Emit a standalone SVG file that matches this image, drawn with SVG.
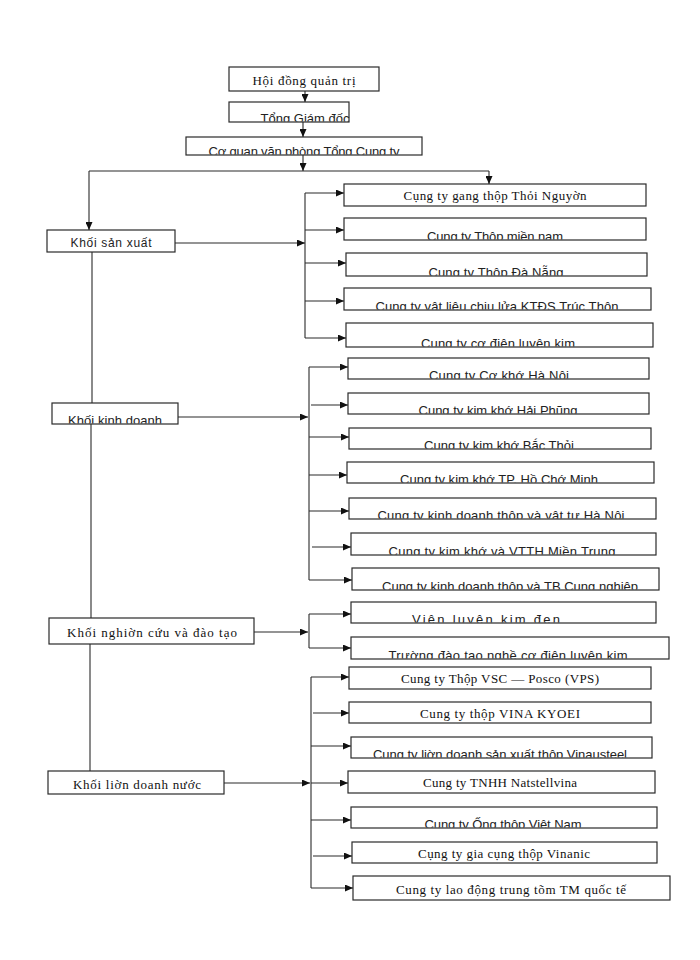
<svg xmlns="http://www.w3.org/2000/svg" width="700" height="960" viewBox="0 0 700 960">
<style>
.box{fill:#fff;stroke:#2a2a2a;stroke-width:1.2}
.sf{font-family:"Liberation Serif","Times New Roman",serif;font-size:13px;fill:#111;text-anchor:middle}
.ss{font-family:"Liberation Sans",Arial,sans-serif;font-size:12px;fill:#222;text-anchor:middle}
.cl{font-size:13px}
.c{stroke:#2a2a2a;stroke-width:1.1;fill:none}
.a{marker-end:url(#ah)}
</style>
<defs>
<marker id="ah" markerUnits="userSpaceOnUse" markerWidth="8" markerHeight="7" refX="8" refY="3.5" orient="auto">
<path d="M0,0 L8,3.5 L0,7 z" fill="#111"/>
</marker>
<clipPath id="cp-top2" clipPathUnits="userSpaceOnUse"><rect x="229" y="102" width="124" height="19.5"/></clipPath>
<clipPath id="cp-top3" clipPathUnits="userSpaceOnUse"><rect x="186" y="137" width="236" height="17.5"/></clipPath>
<clipPath id="cp-kkd" clipPathUnits="userSpaceOnUse"><rect x="52" y="403" width="126" height="20.5"/></clipPath>
<clipPath id="cp-b2" clipPathUnits="userSpaceOnUse"><rect x="344" y="218" width="302" height="21.5"/></clipPath>
<clipPath id="cp-b3" clipPathUnits="userSpaceOnUse"><rect x="346" y="253" width="301" height="22.5"/></clipPath>
<clipPath id="cp-b4" clipPathUnits="userSpaceOnUse"><rect x="344" y="288" width="307" height="21.5"/></clipPath>
<clipPath id="cp-b5" clipPathUnits="userSpaceOnUse"><rect x="346" y="323" width="307" height="23.5"/></clipPath>
<clipPath id="cp-k1" clipPathUnits="userSpaceOnUse"><rect x="348" y="358" width="301" height="20.5"/></clipPath>
<clipPath id="cp-k2" clipPathUnits="userSpaceOnUse"><rect x="348" y="393" width="301" height="20.5"/></clipPath>
<clipPath id="cp-k3" clipPathUnits="userSpaceOnUse"><rect x="349" y="428" width="302" height="20.5"/></clipPath>
<clipPath id="cp-k4" clipPathUnits="userSpaceOnUse"><rect x="347" y="462" width="307" height="20.5"/></clipPath>
<clipPath id="cp-k5" clipPathUnits="userSpaceOnUse"><rect x="349" y="498" width="307" height="20.5"/></clipPath>
<clipPath id="cp-k6" clipPathUnits="userSpaceOnUse"><rect x="351" y="533" width="305" height="21.5"/></clipPath>
<clipPath id="cp-k7" clipPathUnits="userSpaceOnUse"><rect x="352" y="568" width="307" height="21.5"/></clipPath>
<clipPath id="cp-n1" clipPathUnits="userSpaceOnUse"><rect x="351" y="602" width="305" height="20.5"/></clipPath>
<clipPath id="cp-n2" clipPathUnits="userSpaceOnUse"><rect x="351" y="637" width="318" height="21.5"/></clipPath>
<clipPath id="cp-l3" clipPathUnits="userSpaceOnUse"><rect x="351" y="737" width="301" height="20.5"/></clipPath>
<clipPath id="cp-l5" clipPathUnits="userSpaceOnUse"><rect x="351" y="807" width="306" height="20.5"/></clipPath>
</defs>

<g id="connectors">
<line class="c a" x1="305" y1="91" x2="305" y2="102"/>
<line class="c a" x1="303" y1="122" x2="303" y2="137"/>
<line class="c a" x1="303" y1="155" x2="303" y2="171"/>
<line class="c" x1="89" y1="171" x2="489" y2="171"/>
<line class="c a" x1="89" y1="171" x2="89" y2="230"/>
<line class="c a" x1="489" y1="171" x2="489" y2="184"/>
<line class="c a" x1="175" y1="243" x2="305" y2="243"/>
<line class="c" x1="305" y1="193" x2="305" y2="338"/>
<line class="c a" x1="305" y1="193" x2="344" y2="193"/>
<line class="c a" x1="305" y1="230" x2="344" y2="230"/>
<line class="c a" x1="305" y1="263" x2="346" y2="263"/>
<line class="c a" x1="305" y1="301" x2="344" y2="301"/>
<line class="c a" x1="305" y1="338" x2="346" y2="338"/>
<line class="c" x1="92" y1="252" x2="92" y2="403"/>
<line class="c" x1="91" y1="424" x2="91" y2="618"/>
<line class="c" x1="90" y1="644" x2="90" y2="771"/>
<line class="c a" x1="178" y1="417" x2="308" y2="417"/>
<line class="c" x1="309" y1="367" x2="309" y2="580"/>
<line class="c a" x1="309" y1="367" x2="348" y2="367"/>
<line class="c a" x1="311" y1="405" x2="348" y2="405"/>
<line class="c a" x1="309" y1="437" x2="349" y2="437"/>
<line class="c a" x1="309" y1="475" x2="347" y2="475"/>
<line class="c a" x1="309" y1="511" x2="349" y2="511"/>
<line class="c a" x1="312" y1="547" x2="351" y2="547"/>
<line class="c a" x1="309" y1="580" x2="352" y2="580"/>
<line class="c a" x1="254" y1="632" x2="308" y2="632"/>
<line class="c" x1="309" y1="614" x2="309" y2="648"/>
<line class="c a" x1="309" y1="614" x2="351" y2="614"/>
<line class="c a" x1="309" y1="648" x2="351" y2="648"/>
<line class="c a" x1="224" y1="783" x2="310" y2="783"/>
<line class="c" x1="311" y1="677" x2="311" y2="888"/>
<line class="c a" x1="311" y1="677" x2="349" y2="677"/>
<line class="c a" x1="313" y1="713" x2="349" y2="713"/>
<line class="c a" x1="311" y1="746" x2="351" y2="746"/>
<line class="c a" x1="311" y1="783" x2="348" y2="783"/>
<line class="c a" x1="311" y1="820" x2="351" y2="820"/>
<line class="c a" x1="313" y1="856" x2="352" y2="856"/>
<line class="c a" x1="311" y1="888" x2="353" y2="888"/>
</g>

<g id="top1"><rect class="box" x="229" y="67" width="150" height="24"/><text class="sf" x="304" y="85" textLength="103">Hội đồng quản trị</text></g>
<g id="top2"><rect class="box" x="229" y="102" width="120" height="20"/><text class="ss cl" x="305" y="123" textLength="89" clip-path="url(#cp-top2)">Tổng Giám đốc</text></g>
<g id="top3"><rect class="box" x="186" y="137" width="236" height="18"/><text class="ss cl" x="304" y="156" textLength="191" clip-path="url(#cp-top3)">Cơ quan văn phòng Tổng Cung ty</text></g>

<g id="ksx"><rect class="box" x="47" y="230" width="128" height="22"/><text class="ss" x="111" y="247" textLength="81">Khối sản xuất</text></g>
<g id="kkd"><rect class="box" x="52" y="403" width="126" height="21"/><text class="ss cl" x="115" y="425" textLength="94" clip-path="url(#cp-kkd)">Khối kinh doanh</text></g>
<g id="knc"><rect class="box" x="49" y="618" width="205" height="26"/><text class="sf" x="152" y="637" textLength="170">Khối nghiờn cứu và đào tạo</text></g>
<g id="kld"><rect class="box" x="48" y="771" width="176" height="23"/><text class="sf" x="137" y="788.5" textLength="128">Khối liờn doanh nước</text></g>

<g id="b1"><rect class="box" x="344" y="184" width="302" height="22"/><text class="sf" x="495" y="200" textLength="183">Cụng ty gang thộp Thỏi Nguyờn</text></g>
<g id="b2"><rect class="box" x="344" y="218" width="302" height="22"/><text class="ss cl" x="495" y="241" textLength="136" clip-path="url(#cp-b2)">Cụng ty Thộp miền nam</text></g>
<g id="b3"><rect class="box" x="346" y="253" width="301" height="23"/><text class="ss cl" x="496" y="277" textLength="135" clip-path="url(#cp-b3)">Cụng ty Thộp Đà Nẵng</text></g>
<g id="b4"><rect class="box" x="344" y="288" width="307" height="22"/><text class="ss cl" x="497" y="311" textLength="243" clip-path="url(#cp-b4)">Cụng ty vật liệu chịu lửa KTĐS Trúc Thôn</text></g>
<g id="b5"><rect class="box" x="346" y="323" width="307" height="24"/><text class="ss cl" x="498" y="348" textLength="154" clip-path="url(#cp-b5)">Cụng ty cơ điện luyện kim</text></g>

<g id="k1"><rect class="box" x="348" y="358" width="301" height="21"/><text class="ss cl" x="499" y="380" textLength="140" clip-path="url(#cp-k1)">Cụng ty Cơ khớ Hà Nội</text></g>
<g id="k2"><rect class="box" x="348" y="393" width="301" height="21"/><text class="ss cl" x="498" y="415" textLength="159" clip-path="url(#cp-k2)">Cụng ty kim khớ Hải Phũng</text></g>
<g id="k3"><rect class="box" x="349" y="428" width="302" height="21"/><text class="ss cl" x="499" y="450" textLength="150" clip-path="url(#cp-k3)">Cụng ty kim khớ Bắc Thỏi</text></g>
<g id="k4"><rect class="box" x="347" y="462" width="307" height="21"/><text class="ss cl" x="499" y="484" textLength="198" clip-path="url(#cp-k4)">Cụng ty kim khớ TP. Hồ Chớ Minh</text></g>
<g id="k5"><rect class="box" x="349" y="498" width="307" height="21"/><text class="ss cl" x="501" y="520" textLength="247" clip-path="url(#cp-k5)">Cụng ty kinh doanh thộp và vật tư Hà Nội</text></g>
<g id="k6"><rect class="box" x="351" y="533" width="305" height="22"/><text class="ss cl" x="502" y="556" textLength="227" clip-path="url(#cp-k6)">Cụng ty kim khớ và VTTH Miền Trung</text></g>
<g id="k7"><rect class="box" x="352" y="568" width="307" height="22"/><text class="ss cl" x="510" y="591" textLength="256" clip-path="url(#cp-k7)">Cụng ty kinh doanh thộp và TB Cụng nghiệp</text></g>

<g id="n1"><rect class="box" x="351" y="602" width="305" height="21"/><text class="ss cl" x="486" y="624" textLength="148" clip-path="url(#cp-n1)">Viện luyện kim đen</text></g>
<g id="n2"><rect class="box" x="351" y="637" width="318" height="22"/><text class="ss cl" x="508" y="660" textLength="239" clip-path="url(#cp-n2)">Trường đào tạo nghề cơ điện luyện kim</text></g>

<g id="l1"><rect class="box" x="349" y="667" width="302" height="22"/><text class="sf" x="500" y="683" textLength="198">Cung ty Thộp VSC — Posco (VPS)</text></g>
<g id="l2"><rect class="box" x="349" y="702" width="302" height="21"/><text class="sf" x="500" y="717.5" textLength="160">Cung ty thộp VINA KYOEI</text></g>
<g id="l3"><rect class="box" x="351" y="737" width="301" height="21"/><text class="ss cl" x="500" y="759" textLength="254" clip-path="url(#cp-l3)">Cụng ty liờn doanh sản xuất thộp Vinausteel</text></g>
<g id="l4"><rect class="box" x="348" y="771" width="307" height="22"/><text class="sf" x="500" y="787" textLength="154">Cung ty TNHH Natstellvina</text></g>
<g id="l5"><rect class="box" x="351" y="807" width="306" height="21"/><text class="ss cl" x="503" y="829" textLength="157" clip-path="url(#cp-l5)">Cụng ty Ống thộp Việt Nam</text></g>
<g id="l6"><rect class="box" x="352" y="842" width="305" height="21"/><text class="sf" x="504" y="857.5" textLength="172">Cụng ty gia cụng thộp Vinanic</text></g>
<g id="l7"><rect class="box" x="353" y="876" width="317" height="24"/><text class="sf" x="511" y="894" textLength="230">Cung ty lao động trung tõm TM quốc tế</text></g>
</svg>
